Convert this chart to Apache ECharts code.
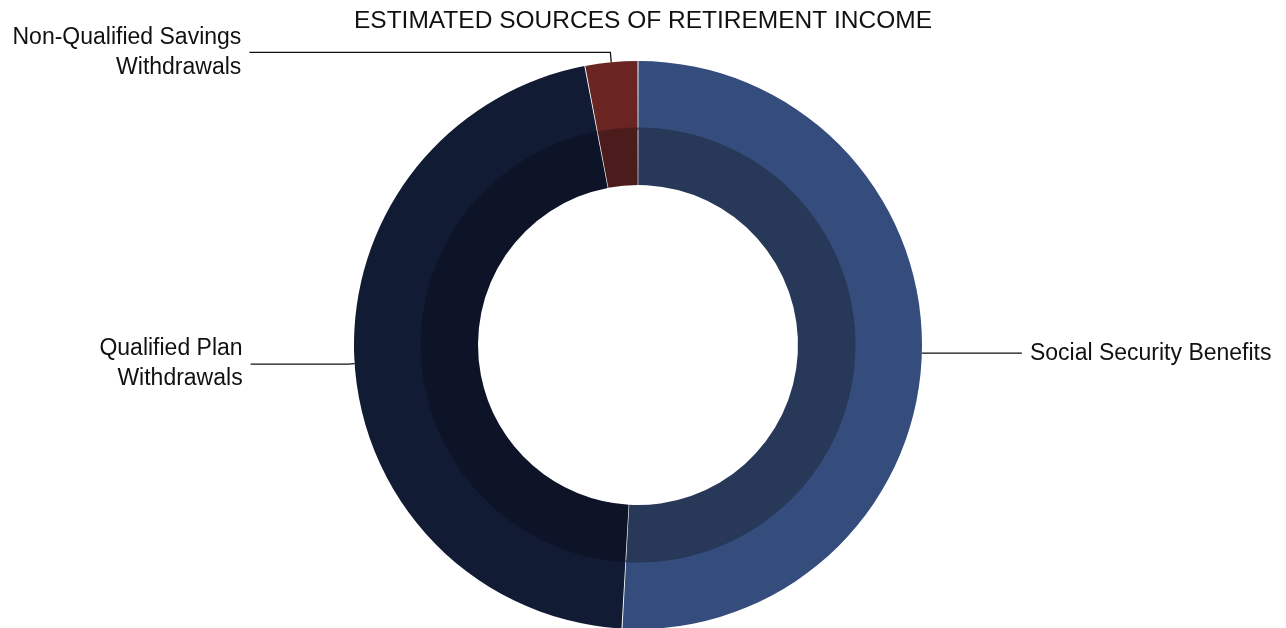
<!DOCTYPE html>
<html>
<head>
<meta charset="utf-8">
<script src="https://cdn.jsdelivr.net/npm/echarts@6/dist/echarts.min.js"></script>
<style>
    html, body { margin: 0; padding: 0; background: #fff; }
    #main { width: 1286px; height: 628px; }
</style>
</head>
<body>
<div id="main"></div>
<script>
    // sources of retirement income (share of total, %)
    var categories = ['Social Security Benefits', 'Qualified Plan\nWithdrawals', 'Non-Qualified Savings\nWithdrawals'];
    var values = [50.9, 46.1, 3.0];
    var outerColors = ['#354d7c', '#121b34', '#6a2523'];
    var innerColors = ['#283859', '#0e1428', '#4c1c1c'];
    // label line segments: out from the ring, then horizontal
    var lineLen = [6, 6, 10];
    var lineLen2 = [94, 98, 361];

    var chart = echarts.init(document.getElementById('main'));

    function buildData(colors, withLines) {
        return categories.map(function (name, i) {
            var item = { name: name, value: values[i], itemStyle: { color: colors[i] } };
            if (withLines) {
                item.labelLine = { length: lineLen[i], length2: lineLen2[i] };
            }
            return item;
        });
    }

    var option = {
        animation: false,
        title: {
            text: 'ESTIMATED SOURCES OF RETIREMENT INCOME',
            left: 'center',
            top: 4,
            textStyle: {
                fontFamily: 'Liberation Sans',
                fontSize: 24.5,
                fontWeight: 'normal',
                color: '#111'
            }
        },
        series: [
            {
                type: 'pie',
                center: [638, 345],
                radius: [215, 284],
                startAngle: 90,
                clockwise: true,
                padAngle: 0.2,
                avoidLabelOverlap: false,
                label: {
                    show: true,
                    fontFamily: 'Liberation Sans',
                    fontSize: 23,
                    lineHeight: 30,
                    color: '#111',
                    distanceToLabelLine: 8
                },
                labelLine: {
                    show: true,
                    lineStyle: { color: '#111', width: 1.3 }
                },
                data: buildData(outerColors, true)
            },
            {
                type: 'pie',
                center: [638, 345],
                radius: [160, 217.5],
                startAngle: 90,
                clockwise: true,
                padAngle: 0.2,
                silent: true,
                label: { show: false },
                labelLine: { show: false },
                data: buildData(innerColors, false)
            }
        ]
    };
    chart.setOption(option);
</script>
</body>
</html>
